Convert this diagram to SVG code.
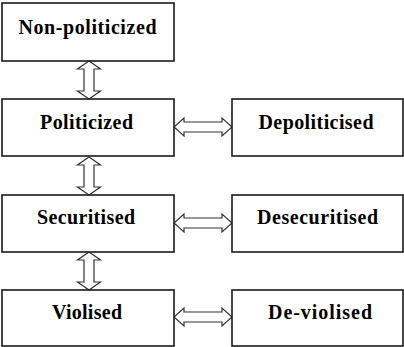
<svg xmlns="http://www.w3.org/2000/svg" xmlns:xlink="http://www.w3.org/1999/xlink" width="404" height="347" viewBox="0 0 404 347">
<style>
.box{fill:#fff;stroke:#1a1a1a;stroke-width:1.6}
.lbl{font-family:"Liberation Serif","Times New Roman",serif;font-weight:bold;font-size:20px;fill:#000;text-anchor:middle}
.arr{fill:#fff;stroke:#333;stroke-width:1.2;stroke-linejoin:miter}
</style>
<defs>
<path id="varr" class="arr" d="M0,0 L11.5,8 L5,8 L5,30 L11.5,30 L0,38 L-11.5,30 L-5,30 L-5,8 L-11.5,8 Z"/>
<path id="harr" class="arr" d="M0,0 L10,-9 L10,-5 L48,-5 L48,-9 L58,0 L48,9 L48,5 L10,5 L10,9 Z"/>
</defs>
<rect width="404" height="347" fill="#fff"/>
<g id="connectors">
<use xlink:href="#varr" href="#varr" x="89" y="61"/>
<use xlink:href="#varr" href="#varr" x="89" y="157"/>
<use xlink:href="#varr" href="#varr" x="89" y="252"/>
<use xlink:href="#harr" href="#harr" x="174" y="127"/>
<use xlink:href="#harr" href="#harr" x="174" y="223"/>
<use xlink:href="#harr" href="#harr" x="174" y="317"/>
</g>
<g id="non-politicized"><rect class="box" x="2" y="3" width="172" height="58"/><text class="lbl" x="87.5" y="33.5" textLength="138" lengthAdjust="spacing">Non-politicized</text></g>
<g id="politicized"><rect class="box" x="2" y="99" width="172" height="57"/><text class="lbl" x="86.5" y="128.5" textLength="93" lengthAdjust="spacing">Politicized</text></g>
<g id="depoliticised"><rect class="box" x="232" y="99" width="171" height="57"/><text class="lbl" x="316" y="128.5" textLength="115" lengthAdjust="spacing">Depoliticised</text></g>
<g id="securitised"><rect class="box" x="2" y="195" width="172" height="57"/><text class="lbl" x="86" y="223.5" textLength="98" lengthAdjust="spacing">Securitised</text></g>
<g id="desecuritised"><rect class="box" x="232" y="195" width="171" height="57"/><text class="lbl" x="317.5" y="223.5" textLength="121" lengthAdjust="spacing">Desecuritised</text></g>
<g id="violised"><rect class="box" x="2" y="290" width="172" height="56"/><text class="lbl" x="87" y="319" textLength="70" lengthAdjust="spacing">Violised</text></g>
<g id="de-violised"><rect class="box" x="232" y="290" width="171" height="56"/><text class="lbl" x="320" y="319" textLength="104" lengthAdjust="spacing">De-violised</text></g>
</svg>
